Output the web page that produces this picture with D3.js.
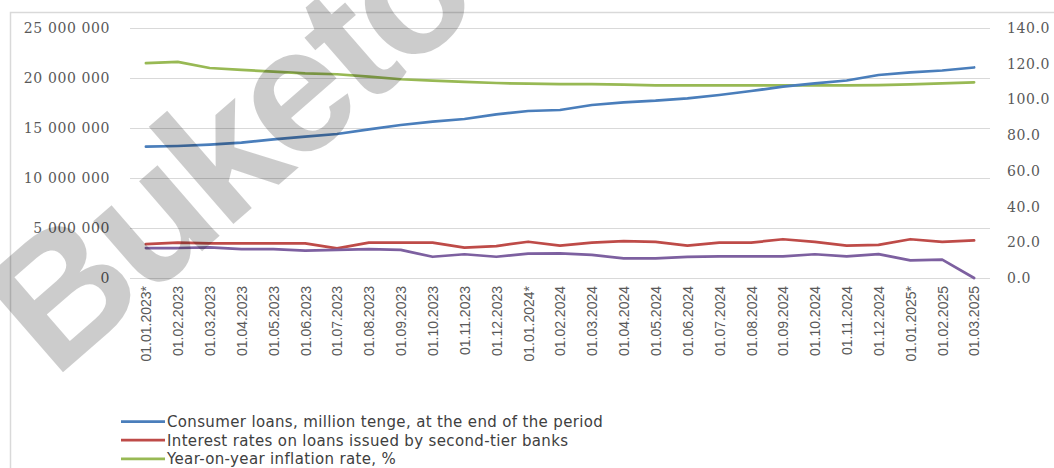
<!DOCTYPE html>
<html>
<head>
<meta charset="utf-8">
<script src="https://cdn.jsdelivr.net/npm/d3@7/dist/d3.min.js"></script>
<style>
    body { margin: 0; background: #fff; }
    svg { display: block; }
    .yaxis text { font-family: "DejaVu Serif", serif; font-size: 14px; fill: #595959; letter-spacing: 0.6px; }
    .xaxis text { font-family: "Liberation Sans Narrow", "Arial Narrow", sans-serif; font-size: 14px; fill: #595959; }
    .legend text { font-family: "DejaVu Sans", sans-serif; font-size: 15px; fill: #404040; letter-spacing: 0.35px; }
</style>
</head>
<body>
<svg id="chart" width="1054" height="468"></svg>
<script>
const categories = ["01.01.2023*", "01.02.2023", "01.03.2023", "01.04.2023", "01.05.2023", "01.06.2023",
    "01.07.2023", "01.08.2023", "01.09.2023", "01.10.2023", "01.11.2023", "01.12.2023",
    "01.01.2024*", "01.02.2024", "01.03.2024", "01.04.2024", "01.05.2024", "01.06.2024",
    "01.07.2024", "01.08.2024", "01.09.2024", "01.10.2024", "01.11.2024", "01.12.2024",
    "01.01.2025*", "01.02.2025", "01.03.2025"];

// left axis
const consumerLoans = [13130000, 13200000, 13330000, 13530000, 13870000, 14130000, 14400000, 14870000, 15300000,
    15630000, 15900000, 16370000, 16700000, 16800000, 17300000, 17570000, 17730000, 17970000,
    18300000, 18700000, 19130000, 19470000, 19750000, 20300000, 20570000, 20750000, 21050000];

// right axis
const interestRates = [19.0, 19.8, 19.4, 19.4, 19.4, 19.4, 16.6, 19.8, 19.8, 19.8, 17.0, 17.9, 20.3,
    18.1, 19.8, 20.7, 20.2, 18.1, 19.8, 19.8, 21.7, 20.2, 18.1, 18.5, 21.7, 20.2, 21.1];
const inflation = [120.3, 121.0, 117.6, 116.5, 115.6, 114.6, 114.1, 112.8, 111.3, 110.5, 109.8, 109.2, 108.8,
    108.6, 108.6, 108.3, 107.9, 107.9, 107.9, 107.9, 107.9, 107.9, 107.9, 108.0, 108.4, 109.0, 109.6];
const otherRate = [16.8, 16.8, 17.2, 16.2, 16.2, 15.3, 15.7, 16.2, 15.7, 11.9, 13.3, 11.9, 13.7,
    13.8, 12.9, 11.0, 11.0, 11.8, 12.1, 12.1, 12.1, 13.3, 12.1, 13.4, 9.9, 10.3, 0];

const leftTicks = [0, 5000000, 10000000, 15000000, 20000000, 25000000];
const rightTicks = [0, 20, 40, 60, 80, 100, 120, 140];

const legendNames = ["Consumer loans, million tenge, at the end of the period",
    "Interest rates on loans issued by second-tier banks",
    "Year-on-year inflation rate, %"];

const colors = { blue: "#4a7ebb", red: "#be4b48", green: "#98b954", purple: "#7d60a0" };

const plot = { left: 130, right: 990, top: 28, bottom: 278 };

const svg = d3.select("#chart");

// outer chart border
svg.append("path")
    .attr("d", "M10.5,470 L10.5,12.5 L1060,12.5")
    .attr("fill", "none")
    .attr("stroke", "#d9d9d9")
    .attr("stroke-width", 1.5);

let xScale = d3.scalePoint()
    .domain(categories)
    .range([plot.left, plot.right])
    .padding(0.5);

let yLeft = d3.scaleLinear()
    .domain([0, 25000000])
    .range([plot.bottom, plot.top]);

let yRight = d3.scaleLinear()
    .domain([0, 140])
    .range([plot.bottom, plot.top]);

// gridlines
svg.append("g")
    .attr("transform", `translate(${plot.left}, 0)`)
    .call(d3.axisLeft(yLeft).tickValues(leftTicks).tickSize(-(plot.right - plot.left)).tickFormat(""))
    .call(g => g.select(".domain").remove())
    .call(g => g.selectAll("line").attr("stroke", "#d9d9d9").attr("stroke-width", 1));

// left axis
svg.append("g")
    .attr("class", "yaxis")
    .attr("transform", `translate(110, 0)`)
    .call(d3.axisLeft(yLeft).tickValues(leftTicks).tickSize(0).tickPadding(0)
        .tickFormat(d => d3.format(",")(d).replace(/,/g, " ")))
    .call(g => g.select(".domain").remove());

// right axis
svg.append("g")
    .attr("class", "yaxis")
    .attr("transform", `translate(1007, 0)`)
    .call(d3.axisRight(yRight).tickValues(rightTicks).tickSize(0).tickPadding(0)
        .tickFormat(d3.format(".1f")))
    .call(g => g.select(".domain").remove());

// category axis, labels rotated
svg.append("g")
    .attr("class", "xaxis")
    .attr("transform", `translate(0, ${plot.bottom})`)
    .call(d3.axisBottom(xScale).tickSize(0))
    .call(g => g.select(".domain").remove())
    .selectAll("text")
    .attr("transform", "rotate(-90)")
    .attr("text-anchor", "end")
    .attr("x", -8)
    .attr("y", 0)
    .attr("dy", "0.35em");

function draw_line(values, scale, color) {
    let line = d3.line()
        .x((d, i) => xScale(categories[i]))
        .y(d => scale(d));
    svg.append("path")
        .datum(values)
        .attr("fill", "none")
        .attr("stroke", color)
        .attr("stroke-width", 2.75)
        .attr("stroke-linejoin", "round")
        .attr("stroke-linecap", "round")
        .attr("d", line);
}

draw_line(inflation, yRight, colors.green);
draw_line(consumerLoans, yLeft, colors.blue);
draw_line(interestRates, yRight, colors.red);
draw_line(otherRate, yRight, colors.purple);

// legend
let legendColors = [colors.blue, colors.red, colors.green];
let legend = svg.append("g").attr("class", "legend");
legendNames.forEach((name, i) => {
    let y = 421.5 + i * 18.7;
    legend.append("line")
        .attr("x1", 121).attr("x2", 165)
        .attr("y1", y).attr("y2", y)
        .attr("stroke", legendColors[i])
        .attr("stroke-width", 2.75);
    legend.append("text")
        .attr("x", 167)
        .attr("y", y)
        .attr("dy", "0.36em")
        .text(name);
});

// watermark
svg.append("text")
    .attr("transform", "translate(54, 380) rotate(-41)")
    .attr("font-family", "Liberation Sans, Arial, sans-serif")
    .attr("font-weight", "bold")
    .attr("font-size", 178)
    .attr("letter-spacing", -6)
    .attr("fill", "#000")
    .attr("fill-opacity", 0.2)
    .text("Buketov");
</script>
</body>
</html>
